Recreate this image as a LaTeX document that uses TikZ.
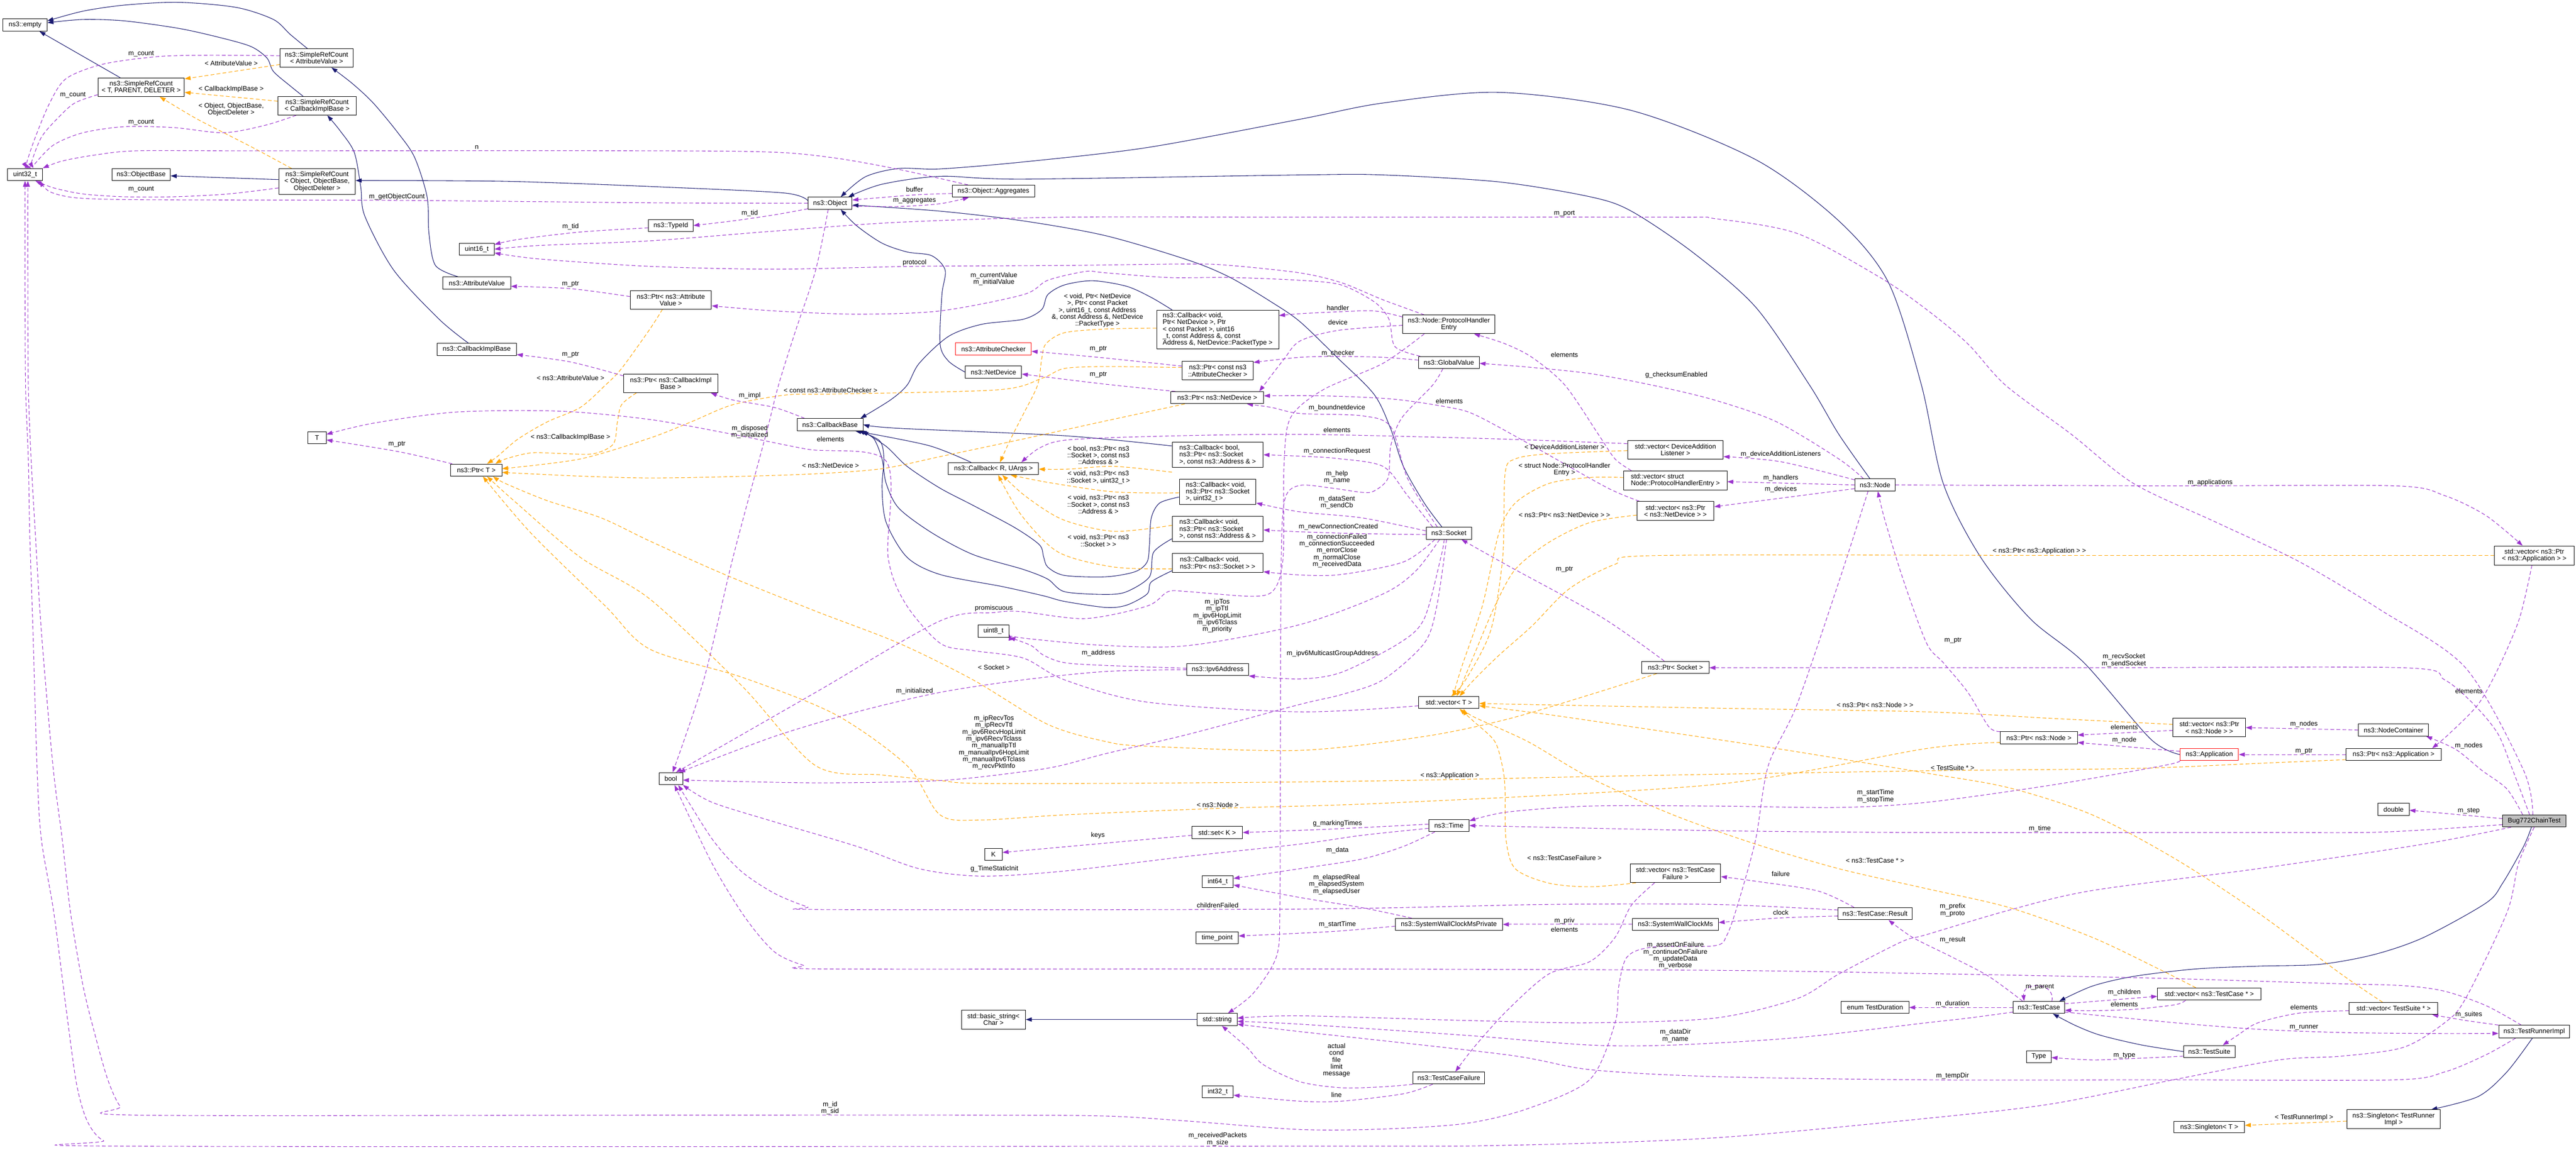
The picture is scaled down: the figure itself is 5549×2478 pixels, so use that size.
\documentclass[tikz,border=0pt]{standalone}
\usepackage{fontspec}
\setmainfont{Liberation Sans}
\usetikzlibrary{arrows.meta}
\pgfdeclarelayer{bg}
\pgfsetlayers{bg,main}
\definecolor{navyc}{HTML}{191970}
\definecolor{purpc}{HTML}{9A32CD}
\definecolor{orgc}{HTML}{FFA500}
\definecolor{bugc}{HTML}{BFBFBF}
\newcommand\dxf{\fontsize{14.4}{14.8}\selectfont}
\tikzset{
 dbox/.style={draw=black,line width=1.1pt,fill=white,inner sep=0pt,align=center,font=\dxf},
 sz/.style 2 args={minimum width=#1pt,minimum height=#2pt},
 dlab/.style={inner sep=0pt,align=center,font=\dxf},
 inhE/.style={draw=navyc,line width=1.2pt,-{Triangle[length=13pt,width=9pt]}},
 useE/.style={draw=purpc,line width=1.2pt,dash pattern=on 8pt off 5pt,-{Triangle[length=13pt,width=9pt]}},
 tplE/.style={draw=orgc,line width=1.2pt,dash pattern=on 8pt off 5pt,-{Triangle[length=13pt,width=9pt]}},
}
\begin{document}
\begin{tikzpicture}[x=1pt,y=-1pt]
\useasboundingbox (0,0) rectangle (5549,2478);
% ---------- nodes ----------
\node[dbox,sz={95}{26}] (empty) at (54,54) {ns3::empty};
\node[dbox,sz={157}{40}] (srcAV) at (682,125) {ns3::SimpleRefCount\\< AttributeValue >};
\node[dbox,sz={186}{40}] (srcT) at (304,188) {ns3::SimpleRefCount\\< T, PARENT, DELETER >};
\node[dbox,sz={169}{40}] (srcCIB) at (683,228) {ns3::SimpleRefCount\\< CallbackImplBase >};
\node[dbox,sz={75}{26}] (nu32) at (54,376) {uint32\_t};
\node[dbox,sz={126}{26}] (objbase) at (304,376) {ns3::ObjectBase};
\node[dbox,sz={165}{55}] (srcObj) at (683,391) {ns3::SimpleRefCount\\< Object, ObjectBase,\\ObjectDeleter >};
\node[dbox,sz={75}{26}] (nu16) at (1027,537) {uint16\_t};
\node[dbox,sz={146}{26}] (attrval) at (1027,610) {ns3::AttributeValue};
\node[dbox,sz={171}{26}] (cib) at (1027,753) {ns3::CallbackImplBase};
\node[dbox,sz={95}{26}] (nobj) at (1788,438) {ns3::Object};
\node[dbox,sz={178}{26}] (aggr) at (2140,412) {ns3::Object::Aggregates};
\node[dbox,sz={96}{26}] (typeid) at (1445,486) {ns3::TypeId};
\node[dbox,sz={175}{40}] (ptrAV) at (1445,646) {ns3::Ptr< ns3::Attribute\\Value >};
\node[dbox,sz={203}{40}] (ptrCIB) at (1445,826) {ns3::Ptr< ns3::CallbackImpl\\Base >};
\node[dbox,align=left,sz={263}{83}] (cbND) at (2623,710) {ns3::Callback< void,\\ Ptr< NetDevice >, Ptr\\< const Packet >, uint16\\\_t, const Address \&, const\\ Address \&, NetDevice::PacketType >};
\node[dbox,draw=red,sz={163}{26}] (attrchk) at (2140,752) {ns3::AttributeChecker};
\node[dbox,sz={153}{40}] (ptrAC) at (2623,799) {ns3::Ptr< const ns3\\::AttributeChecker >};
\node[dbox,sz={121}{26}] (netdev) at (2140,802) {ns3::NetDevice};
\node[dbox,sz={199}{40}] (phe) at (3121,699) {ns3::Node::ProtocolHandler\\Entry};
\node[dbox,sz={131}{26}] (gval) at (3121,781) {ns3::GlobalValue};
\node[dbox,sz={39}{26}] (nT) at (683,943) {T};
\node[dbox,sz={110}{26}] (ptrT) at (1026,1013) {ns3::Ptr< T >};
\node[dbox,sz={142}{26}] (cbbase) at (1788,915) {ns3::CallbackBase};
\node[dbox,sz={194}{26}] (cbRU) at (2140,1010) {ns3::Callback< R, UArgs >};
\node[dbox,sz={200}{26}] (ptrND) at (2622,857) {ns3::Ptr< ns3::NetDevice >};
\node[dbox,align=left,sz={196}{54}] (cbBool) at (2623,980) {ns3::Callback< bool,\\ ns3::Ptr< ns3::Socket\\>, const ns3::Address \& >};
\node[dbox,align=left,sz={165}{54}] (cbU32) at (2623,1060) {ns3::Callback< void,\\ ns3::Ptr< ns3::Socket\\>, uint32\_t >};
\node[dbox,align=left,sz={196}{54}] (cbAddr) at (2623,1140) {ns3::Callback< void,\\ ns3::Ptr< ns3::Socket\\>, const ns3::Address \& >};
\node[dbox,align=left,sz={196}{40}] (cbVoid) at (2623,1213) {ns3::Callback< void,\\ ns3::Ptr< ns3::Socket > >};
\node[dbox,sz={67}{26}] (nu8) at (2140,1360) {uint8\_t};
\node[dbox,sz={133}{26}] (ipv6) at (2623,1443) {ns3::Ipv6Address};
\node[dbox,sz={98}{26}] (socket) at (3121,1149) {ns3::Socket};
\node[dbox,sz={206}{40}] (vecDAL) at (3609,969) {std::vector< DeviceAddition\\Listener >};
\node[dbox,align=left,sz={222}{41}] (vecPHE) at (3609,1035) {std::vector< struct\\ Node::ProtocolHandlerEntry >};
\node[dbox,sz={166}{41}] (vecND) at (3609,1101) {std::vector< ns3::Ptr\\< ns3::NetDevice > >};
\node[dbox,sz={87}{26}] (nnode) at (4039,1045) {ns3::Node};
\node[dbox,sz={145}{26}] (ptrSock) at (3609,1438) {ns3::Ptr< Socket >};
\node[dbox,sz={130}{26}] (vecT) at (3121,1514) {std::vector< T >};
\node[dbox,sz={171}{41}] (vecApp) at (5459,1197) {std::vector< ns3::Ptr\\< ns3::Application > >};
\node[dbox,sz={166}{26}] (ptrNode) at (4392,1590) {ns3::Ptr< ns3::Node >};
\node[dbox,sz={156}{40}] (vecNode) at (4759,1568) {std::vector< ns3::Ptr\\< ns3::Node > >};
\node[dbox,sz={151}{26}] (nodecont) at (5156,1573) {ns3::NodeContainer};
\node[dbox,draw=red,sz={126}{26}] (app) at (4759,1626) {ns3::Application};
\node[dbox,sz={205}{26}] (ptrApp) at (5156,1626) {ns3::Ptr< ns3::Application >};
\node[dbox,sz={51}{26}] (nbool) at (1445,1678) {bool};
\node[dbox,sz={109}{26}] (setK) at (2622,1794) {std::set< K >};
\node[dbox,sz={38}{26}] (nK) at (2140,1841) {K};
\node[dbox,sz={67}{26}] (ni64) at (2623,1900) {int64\_t};
\node[dbox,sz={91}{26}] (tpoint) at (2622,2021) {time\_point};
\node[dbox,sz={138}{41}] (bstr) at (2140,2197) {std::basic\_string<\\Char >};
\node[dbox,sz={86}{26}] (nstr) at (2622,2197) {std::string};
\node[dbox,sz={67}{26}] (ni32) at (2623,2353) {int32\_t};
\node[dbox,sz={87}{26}] (ntime) at (3121,1779) {ns3::Time};
\node[dbox,sz={195}{40}] (vecTCF) at (3609,1882) {std::vector< ns3::TestCase\\Failure >};
\node[dbox,sz={159}{26}] (tcres) at (4039,1969) {ns3::TestCase::Result};
\node[dbox,sz={231}{26}] (swcmp) at (3121,1992) {ns3::SystemWallClockMsPrivate};
\node[dbox,sz={185}{26}] (swcm) at (3609,1992) {ns3::SystemWallClockMs};
\node[dbox,sz={146}{26}] (dur) at (4039,2171) {enum TestDuration};
\node[dbox,sz={154}{26}] (tcf) at (3121,2323) {ns3::TestCaseFailure};
\node[dbox,sz={67}{26}] (dbl) at (5156,1744) {double};
\node[dbox,fill=bugc,sz={136}{26}] (nbug) at (5459,1769) {Bug772ChainTest};
\node[dbox,sz={111}{26}] (tc) at (4392,2171) {ns3::TestCase};
\node[dbox,sz={223}{26}] (vecTC) at (4759,2142) {std::vector< ns3::TestCase * >};
\node[dbox,sz={191}{26}] (vecTS) at (5156,2173) {std::vector< TestSuite * >};
\node[dbox,sz={153}{27}] (runner) at (5459,2223) {ns3::TestRunnerImpl};
\node[dbox,sz={111}{26}] (tsuite) at (4759,2266) {ns3::TestSuite};
\node[dbox,sz={53}{26}] (ntype) at (4392,2277) {Type};
\node[dbox,sz={201}{41}] (singTR) at (5156,2412) {ns3::Singleton< TestRunner\\Impl >};
\node[dbox,sz={152}{25}] (singT) at (4759,2429) {ns3::Singleton< T >};
% ---------- labels ----------
\node[dlab] (l1) at (304,116) {m\_count};
\node[dlab] (l2) at (498,136) {< AttributeValue >};
\node[dlab] (l3) at (157,205) {m\_count};
\node[dlab] (l4) at (498,192) {< CallbackImplBase >};
\node[dlab] (l5) at (498,236) {< Object, ObjectBase,\\ObjectDeleter >};
\node[dlab] (l6) at (304,264) {m\_count};
\node[dlab] (l7) at (1027,317) {n};
\node[dlab] (l8) at (304,408) {m\_count};
\node[dlab] (l9) at (855,424) {m\_getObjectCount};
\node[dlab] (l10) at (1229,488) {m\_tid};
\node[dlab] (l11) at (1229,612) {m\_ptr};
\node[dlab] (l12) at (1229,764) {m\_ptr};
\node[dlab] (l13) at (1229,814) {< ns3::AttributeValue >};
\node[dlab] (l14) at (1970,408) {buffer};
\node[dlab] (l15) at (1970,432) {m\_aggregates};
\node[dlab] (l16) at (1615,460) {m\_tid};
\node[dlab] (l17) at (1970,566) {protocol};
\node[dlab] (l18) at (2141,601) {m\_currentValue\\m\_initialValue};
\node[dlab] (l19) at (2364,669) {< void, Ptr< NetDevice\\>, Ptr< const Packet\\>, uint16\_t, const Address\\\&, const Address \&, NetDevice\\::PacketType >};
\node[dlab] (l20) at (2366,752) {m\_ptr};
\node[dlab] (l21) at (2366,808) {m\_ptr};
\node[dlab] (l22) at (3370,460) {m\_port};
\node[dlab] (l23) at (2882,663) {handler};
\node[dlab] (l24) at (2882,695) {device};
\node[dlab] (l25) at (2882,761) {m\_checker};
\node[dlab] (l26) at (3370,764) {elements};
\node[dlab] (l27) at (3611,808) {g\_checksumEnabled};
\node[dlab] (l28) at (855,957) {m\_ptr};
\node[dlab] (l29) at (1229,942) {< ns3::CallbackImplBase >};
\node[dlab] (l30) at (1789,841) {< const ns3::AttributeChecker >};
\node[dlab] (l31) at (1615,852) {m\_impl};
\node[dlab] (l32) at (1615,931) {m\_disposed\\m\_initialized};
\node[dlab] (l33) at (1789,946) {elements};
\node[dlab] (l34) at (1789,1003) {< ns3::NetDevice >};
\node[dlab] (l35) at (2366,981) {< bool, ns3::Ptr< ns3\\::Socket >, const ns3\\::Address \& >};
\node[dlab] (l36) at (2366,1029) {< void, ns3::Ptr< ns3\\::Socket >, uint32\_t >};
\node[dlab] (l37) at (2366,1087) {< void, ns3::Ptr< ns3\\::Socket >, const ns3\\::Address \& >};
\node[dlab] (l38) at (2366,1165) {< void, ns3::Ptr< ns3\\::Socket > >};
\node[dlab] (l39) at (2141,1311) {promiscuous};
\node[dlab] (l40) at (2622,1327) {m\_ipTos\\m\_ipTtl\\m\_ipv6HopLimit\\m\_ipv6Tclass\\m\_priority};
\node[dlab] (l41) at (2366,1407) {m\_address};
\node[dlab] (l42) at (2141,1438) {< Socket >};
\node[dlab] (l43) at (1970,1489) {m\_initialized};
\node[dlab] (l44) at (2141,1600) {m\_ipRecvTos\\m\_ipRecvTtl\\m\_ipv6RecvHopLimit\\m\_ipv6RecvTclass\\m\_manualIpTtl\\m\_manualIpv6HopLimit\\m\_manualIpv6Tclass\\m\_recvPktInfo};
\node[dlab] (l45) at (3122,864) {elements};
\node[dlab] (l46) at (2880,879) {m\_boundnetdevice};
\node[dlab] (l47) at (2880,927) {elements};
\node[dlab] (l48) at (2880,972) {m\_connectionRequest};
\node[dlab] (l49) at (2880,1028) {m\_help\\m\_name};
\node[dlab] (l50) at (2880,1083) {m\_dataSent\\m\_sendCb};
\node[dlab] (l51) at (2883,1135) {m\_newConnectionCreated};
\node[dlab] (l52) at (2880,1187) {m\_connectionFailed\\m\_connectionSucceeded\\m\_errorClose\\m\_normalClose\\m\_receivedData};
\node[dlab] (l53) at (3370,963) {< DeviceAdditionListener >};
\node[dlab] (l54) at (3370,1012) {< struct Node::ProtocolHandler\\Entry >};
\node[dlab] (l55) at (3370,1110) {< ns3::Ptr< ns3::NetDevice > >};
\node[dlab] (l56) at (3836,979) {m\_deviceAdditionListeners};
\node[dlab] (l57) at (3836,1030) {m\_handlers};
\node[dlab] (l58) at (3836,1054) {m\_devices};
\node[dlab] (l59) at (3370,1227) {m\_ptr};
\node[dlab] (l60) at (2870,1408) {m\_ipv6MulticastGroupAddress};
\node[dlab] (l61) at (4039,1519) {< ns3::Ptr< ns3::Node > >};
\node[dlab] (l62) at (4761,1040) {m\_applications};
\node[dlab] (l63) at (4393,1188) {< ns3::Ptr< ns3::Application > >};
\node[dlab] (l64) at (4207,1380) {m\_ptr};
\node[dlab] (l65) at (4575,1423) {m\_recvSocket\\m\_sendSocket};
\node[dlab] (l66) at (5318,1489) {elements};
\node[dlab] (l67) at (4963,1561) {m\_nodes};
\node[dlab] (l68) at (4576,1567) {elements};
\node[dlab] (l69) at (4576,1595) {m\_node};
\node[dlab] (l70) at (4963,1619) {m\_ptr};
\node[dlab] (l71) at (5318,1607) {m\_nodes};
\node[dlab] (l72) at (4206,1655) {< TestSuite * >};
\node[dlab] (l73) at (2623,1734) {< ns3::Node >};
\node[dlab] (l74) at (2365,1800) {keys};
\node[dlab] (l75) at (2142,1872) {g\_TimeStaticInit};
\node[dlab] (l76) at (2623,1951) {childrenFailed};
\node[dlab] (l77) at (1788,2388) {m\_id\\m\_sid};
\node[dlab] (l78) at (2623,2455) {m\_receivedPackets\\m\_size};
\node[dlab] (l79) at (3123,1671) {< ns3::Application >};
\node[dlab] (l80) at (4040,1716) {m\_startTime\\m\_stopTime};
\node[dlab] (l81) at (2881,1775) {g\_markingTimes};
\node[dlab] (l82) at (2881,1832) {m\_data};
\node[dlab] (l83) at (3370,1849) {< ns3::TestCaseFailure >};
\node[dlab] (l84) at (4039,1855) {< ns3::TestCase * >};
\node[dlab] (l85) at (3836,1883) {failure};
\node[dlab] (l86) at (2879,1906) {m\_elapsedReal\\m\_elapsedSystem\\m\_elapsedUser};
\node[dlab] (l87) at (3836,1966) {clock};
\node[dlab] (l88) at (3370,1984) {m\_priv};
\node[dlab] (l89) at (3370,2003) {elements};
\node[dlab] (l90) at (2881,1992) {m\_startTime};
\node[dlab] (l91) at (3609,2059) {m\_assertOnFailure\\m\_continueOnFailure\\m\_updateData\\m\_verbose};
\node[dlab] (l92) at (3609,2232) {m\_dataDir\\m\_name};
\node[dlab] (l93) at (2879,2285) {actual\\cond\\file\\limit\\message};
\node[dlab] (l94) at (2879,2359) {line};
\node[dlab] (l95) at (5318,1747) {m\_step};
\node[dlab] (l96) at (4394,1786) {m\_time};
\node[dlab] (l97) at (4206,1961) {m\_prefix\\m\_proto};
\node[dlab] (l98) at (4206,2026) {m\_result};
\node[dlab] (l99) at (4394,2127) {m\_parent};
\node[dlab] (l100) at (4576,2139) {m\_children};
\node[dlab] (l101) at (4206,2163) {m\_duration};
\node[dlab] (l102) at (4576,2164) {elements};
\node[dlab] (l103) at (4963,2171) {elements};
\node[dlab] (l104) at (5318,2186) {m\_suites};
\node[dlab] (l105) at (4963,2214) {m\_runner};
\node[dlab] (l106) at (4576,2275) {m\_type};
\node[dlab] (l107) at (4206,2319) {m\_tempDir};
\node[dlab] (l108) at (4963,2408) {< TestRunnerImpl >};
% ---------- edges ----------
\begin{pgfonlayer}{bg}
\fill[white] (0,0) rectangle (5549,2478);
% inheritance
\draw[inhE] ([xshift=-45pt]srcT.north) -- ([xshift=31pt]empty.south);
\draw[inhE] plot[smooth] coordinates {([xshift=-20pt]srcAV.north) (625,74) (589,42) (509,16) (384,5) (268,11) (179,24) ([yshift=9pt]empty.east)};
\draw[inhE] plot[smooth] coordinates {([xshift=-30pt]srcCIB.north) (625,185) (589,154) (575,125) (540,100) (470,80) (384,61) (268,45) (179,42) ([yshift=5pt]empty.east)};
\draw[inhE] plot[smooth] coordinates {([xshift=-40pt]attrval.north) (938,572) (924,503) (920,424) (893,339) (857,286) (804,222) (759,180) ([xshift=32pt]srcAV.south)};
\draw[inhE] plot[smooth] coordinates {([xshift=-18pt]cib.north) (946,688) (848,582) (786,466) (777,402) (763,328) (732,281) ([xshift=22pt]srcCIB.south)};
\draw[inhE] ([yshift=4pt]srcObj.west) -- ([yshift=-3pt]objbase.east);
\draw[inhE] plot[smooth] coordinates {([yshift=6pt]nobj.west) (1690,416) (1450,404) (1100,391) ([yshift=2pt]srcObj.east)};
\draw[inhE] plot[smooth] coordinates {(netdev.west) (2043,778) (2025,741) (2029,635) (2036,582) (2007,551) (1954,543) (1900,524) (1846,487) ([xshift=23pt]nobj.south)};
\draw[inhE] plot[smooth] coordinates {([xshift=-11pt]nnode.north) (3961,936) (3898,830) (3782,662) (3648,545) (3514,455) (3425,424) (3229,392) (2979,377) (2800,377) (2204,386) (2025,380) (1900,397) ([xshift=39pt]nobj.north)};
\draw[inhE] plot[smooth] coordinates {(app.west) (4632,1592) (4489,1428) (4373,1333) (4266,1200) (4186,1042) (4139,830) (4068,609) (3961,476) (3782,344) (3514,238) (3229,199) (2979,222) (2800,257) (2471,318) (2204,349) (2025,364) (1936,363) (1864,381) ([xshift=23pt]nobj.north)};
\draw[inhE] plot[smooth] coordinates {([xshift=-15pt]socket.north) (3068,1084) (3023,1005) (2996,925) (2960,850) (2880,770) (2800,693) (2739,651) (2650,598) (2561,561) (2382,508) (2204,476) (2025,455) ([yshift=-4pt]nobj.east)};
\draw[inhE] plot[smooth] coordinates {([xshift=-98pt]cbND.north) (2480,641) (2427,617) (2354,605) (2293,614) (2257,635) (2244,667) (2204,688) (2114,699) (2043,725) (1980,783) (1954,830) (1918,862) ([xshift=-6pt]cbbase.north east)};
\draw[inhE] plot[smooth] coordinates {([yshift=19pt]cbBool.west) (2293,939) (1936,923) (cbbase.east)};
\draw[inhE] plot[smooth] coordinates {([xshift=-48pt]cbRU.north) (2000,960) ([xshift=54pt]cbbase.south)};
\draw[inhE] plot[smooth] coordinates {([yshift=-11pt]cbU32.west) (2498,1084) (2480,1116) (2476,1174) (2471,1211) (2445,1232) (2382,1243) (2293,1240) (2257,1222) (2248,1200) (2239,1174) (2186,1137) (2096,1089) (2025,1052) (1954,1005) (1909,962) ([xshift=-2pt]cbbase.south east)};
\draw[inhE] plot[smooth] coordinates {([yshift=-21pt]cbAddr.west) (2485,1190) (2476,1243) (2427,1275) (2382,1281) (2293,1275) (2257,1248) (2204,1227) (2096,1195) (2007,1148) (1936,1095) (1909,1042) (1900,989) (1882,945) ([xshift=-6pt]cbbase.south east)};
\draw[inhE] plot[smooth] coordinates {([yshift=-17pt]cbVoid.west) (2480,1254) (2471,1280) (2427,1304) (2382,1309) (2293,1296) (2248,1284) (2159,1264) (2025,1238) (1954,1201) (1909,1126) (1900,1052) (1904,989) (1895,950) ([xshift=-10pt]cbbase.south east)};
\draw[inhE] (nstr.west) -- (bstr.east);
\draw[inhE] plot[smooth] coordinates {([xshift=-6pt]nbug.south) (5436,1824) (5391,1903) (5355,1946) (5221,2020) (5114,2057) (4998,2078) (4864,2082) (4730,2088) (4596,2104) (4507,2125) ([xshift=44pt]tc.north)};
\draw[inhE] plot[smooth] coordinates {(tsuite.west) (4614,2252) (4525,2231) (4471,2210) ([xshift=30pt]tc.south)};
\draw[inhE] plot[smooth] coordinates {([xshift=-4pt]runner.south) (5400,2310) (5338,2363) ([xshift=-20pt]singTR.north east)};
% templates
\draw[tplE] ([yshift=-14pt]srcAV.west) -- ([yshift=18pt]srcT.east);
\draw[tplE] ([yshift=10pt]srcCIB.west) -- ([yshift=-11pt]srcT.east);
\draw[tplE] plot[smooth] coordinates {([xshift=-55pt]srcObj.north) (554,323) (482,286) (420,254) ([xshift=40pt]srcT.south)};
\draw[tplE] plot[smooth] coordinates {([xshift=-18pt]ptrAV.south) (1400,709) (1339,794) (1304,830) (1250,878) (1179,909) (1116,946) (1071,984) ([xshift=23pt]ptrT.north)};
\draw[tplE] plot[smooth] coordinates {([xshift=-74pt]ptrCIB.south) (1339,872) (1330,909) (1321,957) (1277,978) (1205,977) (1143,976) (1089,989) ([xshift=41pt]ptrT.north)};
\draw[tplE] plot[smooth] coordinates {([yshift=7pt]ptrAC.west) (2382,790) (2293,794) (2245,815) (2150,840) (1802,849) (1695,851) (1579,872) (1489,909) (1400,944) (1250,989) ([yshift=3pt]ptrT.east)};
\draw[tplE] plot[smooth] coordinates {([yshift=3pt]cbND.west) (2382,709) (2293,717) (2253,741) (2244,773) (2235,830) (2204,893) (2177,946) ([xshift=14pt]cbRU.north)};
\draw[tplE] plot[smooth] coordinates {([yshift=-10pt]cbBool.south west) (2400,1005) (2300,1011) ([yshift=-1pt]cbRU.east)};
\draw[tplE] plot[smooth] coordinates {([yshift=-2pt]cbU32.west) (2400,1060) (2260,1040) ([xshift=37pt]cbRU.south)};
\draw[tplE] plot[smooth] coordinates {([yshift=8pt]cbAddr.west) (2400,1145) (2290,1120) (2210,1070) ([xshift=19pt]cbRU.south)};
\draw[tplE] plot[smooth] coordinates {([yshift=-13pt]cbVoid.west) (2400,1222) (2280,1190) (2200,1110) ([xshift=10pt]cbRU.south)};
\draw[tplE] plot[smooth] coordinates {([xshift=-70pt]ptrND.south) (2382,907) (2204,946) (2025,984) (1900,1010) (1757,1021) (1579,1027) (1400,1030) (1250,1026) ([yshift=-5pt]ptrT.east)};
\draw[tplE] plot[smooth] coordinates {([xshift=-40pt]ptrSock.south) (3425,1497) (3246,1550) (3068,1587) (2800,1617) (2471,1608) (2382,1598) (2257,1561) (2096,1465) (1936,1386) (1757,1317) (1561,1238) (1400,1166) (1295,1116) (1179,1079) (1089,1042) ([xshift=36pt]ptrT.south)};
\draw[tplE] plot[smooth] coordinates {([yshift=-10pt]ptrNode.west) (4150,1613) (3700,1690) (3000,1730) (2623,1742) (2293,1756) (2114,1767) (2025,1756) (1954,1650) (1800,1540) (1600,1460) (1400,1399) (1304,1306) (1143,1148) ([xshift=14pt]ptrT.south)};
\draw[tplE] plot[smooth] coordinates {([yshift=-11pt]ptrApp.west) (4864,1645) (4596,1656) (4150,1661) (3500,1672) (3123,1680) (2800,1685) (2400,1688) (2100,1688) (2025,1682) (1900,1670) (1757,1650) (1600,1480) (1400,1291) (1250,1201) (1107,1079) ([xshift=23pt]ptrT.south)};
\draw[tplE] plot[smooth] coordinates {(vecApp.west) (4500,1197) (3577,1197) (3479,1216) (3380,1269) (3300,1349) (3229,1412) (3175,1465) ([xshift=23pt]vecT.north)};
\draw[tplE] plot[smooth] coordinates {([yshift=-2pt]vecDAL.west) (3336,978) (3264,989) (3242,1021) (3237,1201) (3211,1359) (3157,1465) ([xshift=5pt]vecT.north)};
\draw[tplE] plot[smooth] coordinates {([yshift=6pt]vecPHE.west) (3425,1029) (3336,1042) (3264,1084) (3229,1148) (3193,1306) (3148,1439) ([xshift=9pt]vecT.north)};
\draw[tplE] plot[smooth] coordinates {([yshift=-9pt]vecND.west) (3425,1126) (3336,1169) (3264,1227) (3220,1306) (3175,1412) ([xshift=17pt]vecT.north)};
\draw[tplE] plot[smooth] coordinates {([yshift=7pt]vecNode.west) (4418,1548) (4150,1534) (3693,1526) ([yshift=-2pt]vecT.east)};
\draw[tplE] plot[smooth] coordinates {([xshift=-85pt]vecTCF.south) (3425,1911) (3336,1903) (3264,1872) (3244,1808) (3242,1703) (3237,1655) (3220,1598) (3175,1555) ([xshift=23pt]vecT.south)};
\draw[tplE] plot[smooth] coordinates {([xshift=-29pt]vecTC.north) (4650,2088) (4507,2020) (4329,1956) (4150,1915) (3961,1872) (3782,1819) (3604,1756) (3425,1676) (3291,1598) (3175,1545) ([xshift=32pt]vecT.south)};
\draw[tplE] plot[smooth] coordinates {([xshift=-24pt]vecTS.north) (5043,2099) (4864,1967) (4686,1851) (4507,1756) (4329,1698) (4150,1666) (3827,1613) (3514,1566) (3336,1540) ([yshift=-7pt]vecT.east)};
\draw[tplE] ([yshift=-4pt]singTR.west) -- ([yshift=4pt]singT.east);
% usage
\draw[useE] plot[smooth] coordinates {([yshift=5pt]srcAV.west) (446,119) (339,122) (223,138) (143,169) (107,222) (76,296) (58,349) ([xshift=4pt]nu32.north)};
\draw[useE] plot[smooth] coordinates {([yshift=-16pt]srcT.west) (161,222) (125,254) (89,296) (67,352) ([xshift=13pt]nu32.north)};
\draw[useE] plot[smooth] coordinates {([xshift=-45pt]srcCIB.south) (571,270) (482,286) (375,275) (268,273) (179,286) (116,312) (76,352) ([xshift=18pt]nu32.north)};
\draw[useE] plot[smooth] coordinates {([yshift=-14pt]srcObj.west) (491,418) (375,424) (268,424) (179,418) (116,405) ([xshift=22pt]nu32.south)};
\draw[useE] plot[smooth] coordinates {(nobj.west) (1400,437) (893,432) (536,431) (268,430) (161,426) (107,413) ([xshift=31pt]nu32.south)};
\draw[useE] plot[smooth] coordinates {([xshift=-55pt]aggr.north) (1936,365) (1802,341) (1668,328) (1400,325) (536,325) (295,325) (205,334) (134,347) (nu32.north east)};
\draw[useE] plot[smooth] coordinates {([xshift=-15pt]nnode.south) (3961,1254) (3871,1518) (3809,1650) (3782,1808) (3746,1940) (3720,2015) (3693,2038) (3559,2041) (3505,2062) (3487,2125) (3479,2204) (3425,2326) (3291,2389) (3157,2421) (2979,2433) (2800,2434) (2561,2416) (2382,2405) (2114,2403) (1400,2403) (295,2403) (259,2384) (232,2326) (205,2231) (179,2125) (152,1967) (134,1808) (114,1650) (89,1359) (76,1148) (67,989) (61,830) (60,600) ([xshift=6pt]nu32.south)};
\draw[useE] plot[smooth] coordinates {(nbug.south) (5425,1861) (5400,1967) (5311,2152) (5266,2204) (5177,2257) (5043,2276) (4909,2284) (4686,2326) (4418,2379) (4150,2410) (3693,2452) (3246,2468) (2800,2470) (295,2470) (223,2458) (188,2416) (165,2336) (143,2178) (116,1967) (89,1808) (80,1660) (71,1359) (64,1148) (61,989) (55,830) (54,600) (nu32.south)};
\draw[useE] plot[smooth] coordinates {([yshift=-5pt]typeid.west) (1250,500) (1116,516) ([yshift=10pt]nu16.east)};
\draw[useE] plot[smooth] coordinates {([xshift=-3pt]nbug.north) (5436,1660) (5311,1439) (5132,1317) (4954,1211) (4775,1126) (4596,1042) (4462,936) (4320,830) (4239,741) (4150,667) (4050,598) (3871,503) (3693,471) (3600,468) (2800,468) (2293,468) (1936,479) (1668,498) (1400,519) (1161,529) (nu16.east)};
\draw[useE] plot[smooth] coordinates {([xshift=-53pt]phe.north) (2979,646) (2889,609) (2800,588) (2650,572) (2561,569) (2293,572) (1970,574) (1668,580) (1400,574) (1161,558) ([yshift=-8pt]nu16.east)};
\draw[useE] plot[smooth] coordinates {([yshift=-12pt]nobj.west) (1668,463) (1579,476) (typeid.east)};
\draw[useE] plot[smooth] coordinates {([yshift=-6pt]nobj.east) (1936,445) (2025,439) ([xshift=-53pt]aggr.south)};
\draw[useE] plot[smooth] coordinates {([yshift=-5pt]aggr.west) (1970,420) ([yshift=7pt]nobj.east)};
\draw[useE] plot[smooth] coordinates {([yshift=7pt]ptrAV.west) (1229,622) ([yshift=-7pt]attrval.east)};
\draw[useE] plot[smooth] coordinates {([yshift=16pt]ptrCIB.west) (1229,780) ([yshift=-11pt]cib.east)};
\draw[useE] plot[smooth] coordinates {([xshift=-52pt]ptrT.north) (857,973) ([yshift=-5pt]nT.east)};
\draw[useE] plot[smooth] coordinates {([yshift=-7pt]vecT.west) (2800,1534) (2471,1513) (2293,1465) (2204,1418) (2096,1402) (2025,1386) (1950,1300) (1913,1200) (1909,994) (1739,968) (1579,936) (1400,904) (1205,886) (982,888) (804,912) ([yshift=7pt]nT.east)};
\draw[useE] plot[smooth] coordinates {([xshift=-4pt]nobj.south) (1757,582) (1713,715) (1677,830) (1650,936) (1579,1201) (1516,1465) ([xshift=4pt]nbool.north)};
\draw[useE] plot[smooth] coordinates {(ipv6.west) (2382,1447) (2204,1465) (2025,1492) (1846,1534) (1668,1587) ([xshift=18pt]nbool.north)};
\draw[useE] plot[smooth] coordinates {([xshift=-53pt]phe.south) (2979,783) (2850,840) (2780,900) (2766,1000) (2764,1200) (2745,1270) (2700,1285) (2560,1275) (2516,1275) (2471,1306) (2338,1333) (2200,1318) (2141,1320) (2025,1338) (1757,1492) ([xshift=11pt]nbool.north)};
\draw[useE] plot[smooth] coordinates {([xshift=-5pt]socket.south) (3095,1306) (3068,1386) (2979,1465) (2889,1497) (2800,1518) (2561,1582) (2382,1624) (2284,1650) (2204,1663) (2025,1682) (1757,1687) ([yshift=-3pt]nbool.east)};
\draw[useE] plot[smooth] coordinates {([yshift=-6pt]ntime.west) (2934,1800) (2800,1819) (2561,1845) (2293,1877) (2114,1888) (1980,1872) (1846,1824) (1668,1771) (1534,1729) (nbool.south east)};
\draw[useE] plot[smooth] coordinates {([yshift=8pt]tcres.west) (3693,1949) (3336,1949) (2800,1959) (1784,1960) (1739,1954) (1668,1925) (1596,1877) (1534,1808) ([xshift=16pt]nbool.south)};
\draw[useE] plot[smooth] coordinates {([xshift=-28pt]runner.north) (5355,2167) (5266,2136) (5177,2124) (5043,2120) (4686,2109) (4418,2103) (4150,2098) (3693,2091) (2800,2088) (1784,2088) (1730,2080) (1668,2051) (1605,1977) (1534,1861) ([xshift=8pt]nbool.south)};
\draw[useE] plot[smooth] coordinates {([yshift=10pt]ptrAC.west) (2366,770) ([yshift=-5pt]attrchk.east)};
\draw[useE] plot[smooth] coordinates {([xshift=-90pt]ptrND.north) (2382,828) ([yshift=-4pt]netdev.east)};
\draw[useE] plot[smooth] coordinates {([xshift=-62pt]gval.north) (3005,747) (2992,688) (2961,651) (2889,614) (2800,604) (2650,598) (2516,598) (2382,588) (2338,585) (2257,604) (2204,635) (2025,670) (1846,677) (1668,670) ([yshift=-13pt]ptrAV.east)};
\draw[useE] plot[smooth] coordinates {([yshift=5pt]gval.west) (2979,770) (2882,768) (2800,770) ([yshift=18pt]ptrAC.east)};
\draw[useE] plot[smooth] coordinates {([xshift=-13pt]gval.south) (3086,830) (3020,900) (2996,960) (2990,1030) (2960,1058) (2934,1061) (2870,1052) (2800,1046) (2768,1075) (2760,1200) (2758,1600) (2757,1950) (2750,2060) (2700,2140) ([xshift=23pt]nstr.north)};
\draw[useE] plot[smooth] coordinates {([yshift=16pt]phe.west) (2960,670) (2882,672) (2800,676) ([yshift=30pt]cbND.east)};
\draw[useE] plot[smooth] coordinates {([yshift=-2pt]phe.west) (2882,712) (2800,735) (2765,775) ([xshift=-10pt]ptrND.north east)};
\draw[useE] plot[smooth] coordinates {([xshift=-25pt]socket.north) (3032,1031) (2996,920) (2934,896) (2800,891) (2739,878) ([xshift=64pt]ptrND.south)};
\draw[useE] plot[smooth] coordinates {([xshift=-78pt]vecND.north) (3460,1050) (3300,960) (3180,895) (3122,878) (3000,860) (2850,853) ([yshift=4pt]ptrND.east)};
\draw[useE] plot[smooth] coordinates {([yshift=13pt]vecDAL.west) (3200,945) (2800,936) (2500,940) (2300,948) (2240,965) ([xshift=60pt]cbRU.north)};
\draw[useE] plot[smooth] coordinates {([xshift=-95pt]vecPHE.north) (3479,989) (3443,936) (3371,830) (3300,770) (3240,740) ([xshift=54pt]phe.south)};
\draw[useE] plot[smooth] coordinates {([xshift=-35pt]socket.north) (3032,1068) (2979,1005) (2880,988) (2800,983) (cbBool.east)};
\draw[useE] plot[smooth] coordinates {([yshift=5pt]socket.west) (2934,1116) (2800,1103) ([yshift=-24pt]cbU32.east)};
\draw[useE] plot[smooth] coordinates {([yshift=-3pt]socket.west) (2934,1150) (2800,1146) ([yshift=-2pt]cbAddr.east)};
\draw[useE] plot[smooth] coordinates {([xshift=-30pt]socket.south) (3023,1211) (2889,1238) (2800,1239) ([yshift=-19pt]cbVoid.east)};
\draw[useE] plot[smooth] coordinates {([xshift=-20pt]socket.south) (3050,1230) (2979,1280) (2800,1346) (2561,1391) (2382,1391) (2204,1375) ([yshift=-7pt]nu8.east)};
\draw[useE] plot[smooth] coordinates {([yshift=3pt]ipv6.west) (2382,1434) (2293,1428) (2248,1412) (2221,1391) (nu8.south east)};
\draw[useE] plot[smooth] coordinates {([xshift=-10pt]socket.south) (3104,1200) (3068,1333) (3014,1386) (2889,1449) (2800,1463) (ipv6.south east)};
\draw[useE] plot[smooth] coordinates {([xshift=-24pt]ptrSock.north) (3450,1330) (3250,1220) ([xshift=27pt]socket.south)};
\draw[useE] plot[smooth] coordinates {([yshift=11pt]nnode.west) (3836,995) ([yshift=-15pt]vecDAL.east)};
\draw[useE] (nnode.west) -- ([yshift=-3pt]vecPHE.east);
\draw[useE] ([yshift=-8pt]nnode.west) -- ([yshift=9pt]vecND.east);
\draw[useE] plot[smooth] coordinates {(nnode.east) (4686,1047) (5159,1047) (5266,1068) (5355,1111) ([xshift=-25pt]vecApp.north)};
\draw[useE] plot[smooth] coordinates {([xshift=-25pt]nnode.north) (3961,989) (3827,909) (3693,862) (3559,830) (3425,805) (3291,791) ([yshift=-2pt]gval.east)};
\draw[useE] plot[smooth] coordinates {([xshift=-10pt]nbug.north) (5409,1650) (5380,1580) (5329,1518) (5266,1465) (5177,1439) (4500,1439) ([yshift=-1pt]ptrSock.east)};
\draw[useE] plot[smooth] coordinates {([xshift=-25pt]nbug.north) (5400,1700) (5346,1660) (5290,1615) ([xshift=70pt]nodecont.south)};
\draw[useE] plot[smooth] coordinates {([xshift=-5pt]vecApp.south) (5427,1333) (5382,1439) (5338,1518) (5275,1582) ([xshift=83pt]ptrApp.north)};
\draw[useE] (ptrApp.west) -- (app.east);
\draw[useE] (nodecont.west) -- (vecNode.east);
\draw[useE] ([yshift=-6pt]vecNode.west) -- ([yshift=6pt]ptrNode.east);
\draw[useE] ([yshift=7pt]app.west) -- ([yshift=-10pt]ptrNode.east);
\draw[useE] plot[smooth] coordinates {(ptrNode.north west) (4284,1566) (4239,1492) (4186,1428) (4150,1386) (4100,1250) (4060,1120) ([xshift=6pt]nnode.south)};
\draw[useE] plot[smooth] coordinates {([xshift=-63pt]app.south) (4659,1650) (4418,1692) (4150,1729) (3961,1740) (3693,1737) (3425,1737) (3246,1750) ([yshift=10pt]ntime.east)};
\draw[useE] plot[smooth] coordinates {([yshift=-8pt]nbug.west) (5132,1793) (4864,1794) (4150,1794) (3693,1790) (ntime.east)};
\draw[useE] ([yshift=5pt]nbug.west) -- ([yshift=-2pt]dbl.east);
\draw[useE] plot[smooth] coordinates {([xshift=-50pt]nbug.south) (5221,1819) (4864,1872) (4507,1919) (4329,1961) (4150,2014) (4095,2030) (3961,2099) (3871,2152) (3693,2194) (3425,2204) (3157,2199) (2800,2189) ([yshift=3pt]nstr.east)};
\draw[useE] plot[smooth] coordinates {([yshift=-10pt]tc.west) (4239,2194) (4150,2204) (3871,2236) (3604,2252) (3425,2252) (3157,2231) (2800,2207) ([yshift=-4pt]nstr.east)};
\draw[useE] plot[smooth] coordinates {([xshift=-40pt]runner.south) (5355,2273) (5266,2310) (5159,2327) (4686,2327) (4150,2327) (3693,2320) (3425,2305) (3246,2273) (2800,2223) ([yshift=-10pt]nstr.east)};
\draw[useE] plot[smooth] coordinates {(tcf.south west) (2979,2342) (2889,2344) (2800,2331) (2721,2294) (2686,2257) ([xshift=10pt]nstr.south)};
\draw[useE] plot[smooth] coordinates {([xshift=-35pt]tcf.south) (3023,2357) (2889,2373) (2800,2373) ([yshift=-7pt]ni32.east)};
\draw[useE] plot[smooth] coordinates {([yshift=3pt]ntime.west) (2881,1786) (setK.east)};
\draw[useE] ([yshift=-6pt]setK.west) -- ([yshift=4pt]nK.east);
\draw[useE] plot[smooth] coordinates {([xshift=-30pt]ntime.south) (3023,1824) (2934,1851) (2800,1872) ([yshift=7pt]ni64.east)};
\draw[useE] plot[smooth] coordinates {([xshift=-80pt]swcmp.north) (2934,1956) (2800,1934) ([yshift=-7pt]ni64.east)};
\draw[useE] plot[smooth] coordinates {([yshift=-4pt]swcmp.west) (2889,2006) (2800,2011) ([yshift=4pt]tpoint.east)};
\draw[useE] (swcm.west) -- (swcmp.east);
\draw[useE] plot[smooth] coordinates {([yshift=-5pt]tcres.west) (3836,1978) ([yshift=4pt]swcm.east)};
\draw[useE] plot[smooth] coordinates {([xshift=-45pt]tcres.north) (3916,1920) (3782,1899) ([yshift=-7pt]vecTCF.east)};
\draw[useE] plot[smooth] coordinates {([xshift=-45pt]vecTCF.south) (3514,1951) (3479,2020) (3425,2072) (3336,2099) (3246,2178) (3175,2257) ([xshift=14pt]tcf.north)};
\draw[useE] plot[smooth] coordinates {([xshift=-35pt]tc.north) (4284,2104) (4204,2062) (4120,2020) ([xshift=29pt]tcres.south)};
\draw[useE] (tc.west) -- (dur.east);
\draw[useE] ([xshift=28pt]tc.north) .. controls (4428,2115) and (4356,2115) .. ([xshift=-32pt]tc.north);
\draw[useE] ([yshift=8pt]tc.east) -- ([yshift=-5pt]vecTC.west);
\draw[useE] plot[smooth] coordinates {([xshift=-51pt]vecTC.south) (4686,2165) (4596,2175) (4507,2178) ([yshift=-6pt]tc.east)};
\draw[useE] plot[smooth] coordinates {([yshift=-10pt]tc.east) (4686,2204) (4864,2218) (5043,2225) (5221,2227) ([yshift=-4pt]runner.west)};
\draw[useE] plot[smooth] coordinates {(runner.north west) (5311,2199) ([xshift=83pt]vecTS.south)};
\draw[useE] plot[smooth] coordinates {([yshift=-5pt]vecTS.west) (4954,2183) (4864,2204) (4820,2231) ([xshift=29pt]tsuite.north)};
\draw[useE] plot[smooth] coordinates {([yshift=-10pt]tsuite.west) (4596,2281) (4507,2284) ([yshift=-2pt]ntype.east)};
\draw[useE] plot[smooth] coordinates {([xshift=-55pt]cbbase.north) (1668,878) (1579,862) ([xshift=-16pt]ptrCIB.south east)};
\end{pgfonlayer}
\end{tikzpicture}
\end{document}
